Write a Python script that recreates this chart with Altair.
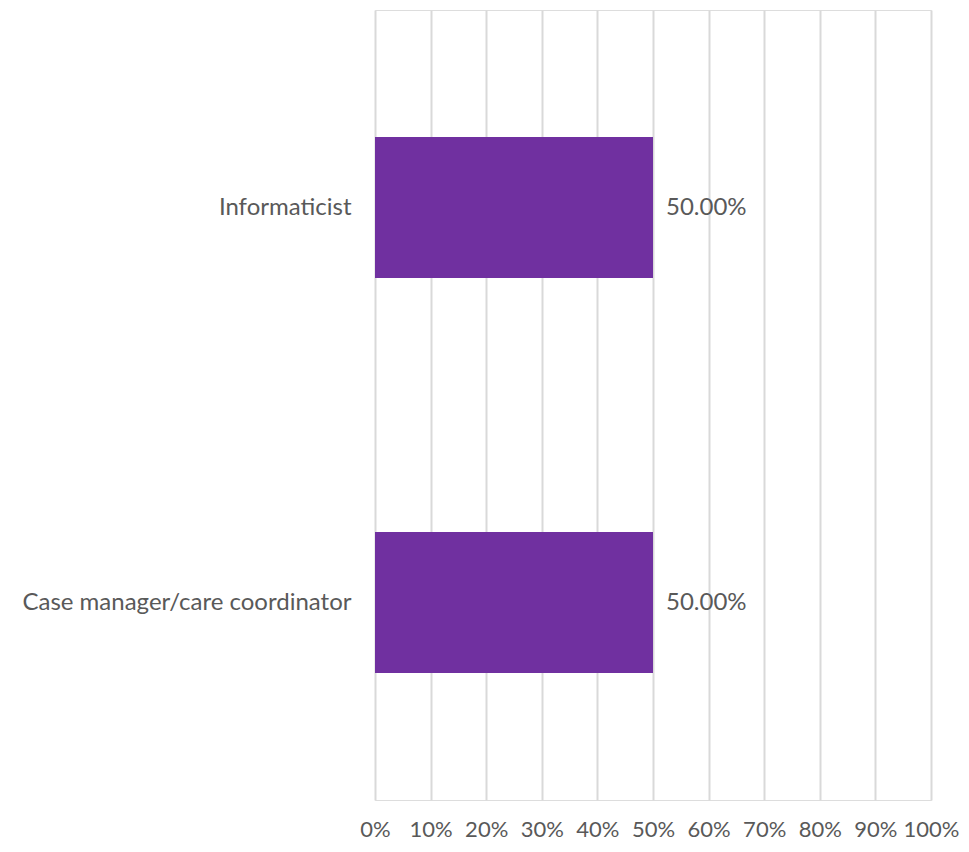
import altair as alt
import pandas as pd

categories = ["Informaticist", "Case manager/care coordinator"]
values = [0.5, 0.5]
labels = ["50.00%", "50.00%"]

df = pd.DataFrame({"category": categories, "value": values, "label": labels})

FONT = "Lato"
TXT = "#595959"
FS = 24

y_enc = alt.Y("category:N", sort=categories, title=None,
              scale=alt.Scale(paddingInner=0.643, paddingOuter=0.3215),
              axis=alt.Axis(labelFont=FONT, labelFontSize=FS, labelColor=TXT,
                            labelPadding=24, labelLimit=0, ticks=False,
                            domain=False, grid=False))
x_enc = alt.X("value:Q", title=None,
              scale=alt.Scale(domain=[0, 1], nice=False),
              axis=alt.Axis(values=[i / 10 for i in range(11)], format=".0%",
                            labelFont=FONT, labelFontSize=22, labelColor=TXT,
                            labelPadding=19, ticks=False, domain=False,
                            grid=True, gridColor="#d9d9d9", gridWidth=2,
                            labelFlush=False))

bars = alt.Chart(df).mark_bar(color="#7030A0").encode(y=y_enc, x=x_enc)
text = alt.Chart(df).mark_text(align="left", dx=13, font=FONT, fontSize=FS,
                               color=TXT, baseline="middle").encode(
    y=alt.Y("category:N", sort=categories),
    x=alt.X("value:Q"),
    text="label:N")

chart = (bars + text).properties(
    width=556, height=790,
    autosize=alt.AutoSizeParams(type="none"),
    padding={"left": 367, "top": 2, "right": 30, "bottom": 44},
).configure_view(stroke=None).configure(background="white")

chart.save("out.html", embed_options={"renderer": "svg", "actions": False})
